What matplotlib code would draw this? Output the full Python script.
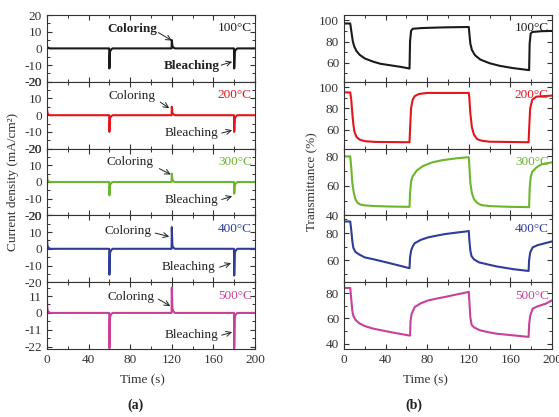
import numpy as np
import matplotlib
matplotlib.use("Agg")
from matplotlib import pyplot as plt
from matplotlib.ticker import MultipleLocator

plt.rcParams['font.family'] = ['Liberation Serif', 'DejaVu Serif']
plt.rcParams['font.size'] = 9
plt.rcParams['axes.unicode_minus'] = False

# panel labels and colours
temps = ['100°C', '200°C', '300°C', '400°C', '500°C']
colors = ['#1a1a1a', '#e3161e', '#6cb52d', '#2f3c98', '#c7409a']

# (a) current density, sampled around the switching spikes
t_cur = [0, 0.3, 1, 3, 59.8, 60, 60.6, 61.5, 63, 119.8, 120, 120.6, 121.5, 123,
         179.8, 180, 180.6, 181.5, 183, 200]
cur_100 = [1, 1, 0.3, 0, 0, -12, -2, -0.8, 0, 0, 5, 1.5, 0.5, 0, 0, -12, -2, -0.8, 0, 0]
cur_200 = [4, 2, 0.5, 0, 0, -10, -2, -0.8, 0, 0, 5, 1.5, 0.5, 0, 0, -10, -2, -0.8, 0, 0]
cur_300 = [4, 2, 0.5, 0, 0, -8, -2, -0.8, 0, 0, 5, 1.5, 0.5, 0, 0, -7, -2, -0.8, 0, 0]
cur_400 = [6, 2.5, 0.8, 0, 0, -15.5, -2.5, -1, 0, 0, 13, 2, 0.7, 0, 0, -16, -2.5, -1, 0, 0]
cur_500 = [8, 3, 1, 0, 0, -23, -3, -1, 0, 0, 16.5, 3, 1, 0, 0, -23, -3, -1, 0, 0]

# (b) transmittance
t_100 = [0, 6, 7, 8.5, 10, 12, 15, 20, 28, 35, 45, 55, 63, 63.5, 64.5, 66, 75, 95, 120,
         120.5, 121.5, 123, 126, 131, 140, 150, 162, 170, 178, 178.5, 179.5, 181, 190, 200]
T_100 = [97, 97, 90, 80, 75, 71, 67.5, 64, 61, 59, 57.5, 56, 54.5, 80, 90, 92, 92.7, 93.3, 93.7,
         88, 78, 72, 67, 63, 59.5, 57, 55, 54, 53, 78, 87.5, 89, 89.7, 90]
t_200 = [0, 6, 7, 8, 9, 10, 12, 15, 20, 30, 63, 63.5, 64.5, 66, 68, 72, 80, 120, 120.5,
         121.5, 123, 125, 128, 132, 140, 177.5, 178, 179, 181, 185, 200]
T_200 = [95, 95, 88, 75, 65, 58, 53, 50.5, 49, 48.3, 48, 60, 80, 88, 91.5, 93.5, 94.5, 94.5, 90,
         75, 62, 55, 51, 49.5, 48.5, 48, 60, 80, 88, 91, 92]
t_300 = [0, 6, 7, 8, 9.5, 11, 13, 16, 20, 30, 45, 63, 63.5, 64.5, 66, 70, 76, 85, 95, 108, 120,
         120.5, 121.5, 123, 125, 128, 132, 140, 160, 178, 178.5, 179.5, 181, 185, 190, 200]
T_300 = [80, 80, 72, 62, 55, 51, 48.5, 47.3, 46.8, 46.3, 46, 45.8, 55, 63, 66.5, 70.5, 73.5, 76,
         77.5, 78.7, 79.5, 74, 62, 55, 51, 48.5, 47, 46.3, 45.8, 45.6, 58, 66, 69.5, 72.5, 74.7, 76]
t_400 = [0, 6, 7, 8, 9, 11, 15, 20, 28, 41, 54, 63, 63.5, 64.5, 66, 68, 74, 81, 90, 97, 108, 118,
         120, 120.5, 121.5, 122.6, 125, 130, 140, 147, 163, 177.5, 178, 179, 181.4, 186, 194, 200]
T_400 = [88.5, 88.5, 82, 74, 69, 66, 64, 62, 60.7, 58.3, 55.8, 54, 62, 67, 70, 72.5, 75, 76.8,
         78.2, 79.2, 80.3, 81.2, 81.5, 75, 67, 63, 60.5, 58.3, 56.5, 55.3, 53.3, 52, 60, 65.5,
         69.4, 71, 72.6, 73.8]
t_500 = [0, 6, 7, 8, 9, 11, 15, 20, 28, 44, 62, 63.5, 64, 65, 68, 74, 81, 90, 97, 108, 118, 120,
         120.5, 121.5, 122.7, 125, 130.7, 140, 147, 163, 177.5, 178, 179, 181.4, 186, 194, 200]
T_500 = [84, 84, 75, 66, 62, 59, 56, 54, 52, 49.4, 46.7, 46.5, 58, 63.5, 69, 72, 74.2, 75.8,
         76.9, 78.8, 80.5, 81, 74, 61, 55, 53, 50.7, 49, 48, 46.7, 45.5, 55, 62, 67.7, 69.5,
         71.6, 74.2]

cur_all = [cur_100, cur_200, cur_300, cur_400, cur_500]
trans_all = [(t_100, T_100), (t_200, T_200), (t_300, T_300), (t_400, T_400), (t_500, T_500)]

# y limits and ticks per panel
cur_ylim = [(-20, 20), (-20, 20), (-20, 20), (-20, 20), (-23.5, 20)]
cur_step = [10, 10, 10, 10, 11]
tr_ylim = [(42, 105), (42, 105), (40, 85.3), (43.7, 93), (36, 88.5)]

# annotation positions (text centre, arrow start, arrow end) in data units
col_txt = [(82, 11.4), (82, 11.3), (80, 12), (78, 10.9), (81, 10.5)]
col_arrow = [((107, 9.5), (120, 4.7)), ((109, 7.8), (117.5, 4.2)), ((108, 8), (119, 4.5)),
             ((104, 9.4), (117.5, 7.3)), ((107, 9), (118.5, 4.5))]
ble_txt = [(139, -10.3), (139, -10.7), (139, -10.5), (136, -11), (139, -14.7)]
ble_arrow = [((167.5, -10), (178, -8)), ((168, -10.7), (178, -9)), ((168, -10.5), (178, -8.5)),
             ((166, -11), (177, -8.6)), ((168, -14.5), (178, -12.5))]

fig = plt.figure(figsize=(5.59, 4.17), dpi=100)

H = 1.0 - 15 / 417
ph = 66.8 / 417
lx, rx, w = 47 / 559, 344 / 559, 208 / 559


def style(ax, last):
    ax.set_xlim(0, 200)
    ax.xaxis.set_major_locator(MultipleLocator(40))
    ax.xaxis.set_minor_locator(MultipleLocator(20))
    ax.tick_params(which='both', direction='in', top=True, right=True,
                   labelsize=9.5, colors='#333333', labelcolor='#333333')
    ax.tick_params(which='major', length=3.5, width=0.8)
    ax.tick_params(which='minor', length=2.2, width=0.7)
    for s in ax.spines.values():
        s.set_linewidth(0.8)
        s.set_color('#333333')
    if not last:
        ax.tick_params(labelbottom=False)


for i in range(5):
    last = i == 4
    # current density
    ax = fig.add_axes([lx, H - (i + 1) * ph, w, ph])
    ax.plot(t_cur, cur_all[i], color=colors[i], lw=1.5)
    ax.set_ylim(*cur_ylim[i])
    ax.yaxis.set_major_locator(MultipleLocator(cur_step[i]))
    ax.yaxis.set_minor_locator(MultipleLocator(cur_step[i] / 2))
    style(ax, last)
    ax.text(0.985, 0.8, temps[i], color=colors[i], ha='right', va='center',
            transform=ax.transAxes, fontsize=9.5)
    fw = 'bold' if i == 0 else 'normal'
    ax.text(*col_txt[i], 'Coloring', ha='center', va='center', fontsize=9.5,
            color='#222222', fontweight=fw)
    ax.text(*ble_txt[i], 'Bleaching', ha='center', va='center', fontsize=9.5,
            color='#222222', fontweight=fw)
    ax.annotate('', xy=col_arrow[i][1], xytext=col_arrow[i][0],
                arrowprops=dict(arrowstyle='->', lw=0.7, color='#222222',
                                shrinkA=0, shrinkB=0))
    ax.annotate('', xy=ble_arrow[i][1], xytext=ble_arrow[i][0],
                arrowprops=dict(arrowstyle='->', lw=0.7, color='#222222',
                                shrinkA=0, shrinkB=0))

    # transmittance
    bx = fig.add_axes([rx, H - (i + 1) * ph, w, ph])
    bx.plot(trans_all[i][0], trans_all[i][1], color=colors[i], lw=1.5)
    bx.set_ylim(*tr_ylim[i])
    bx.yaxis.set_major_locator(MultipleLocator(20))
    bx.yaxis.set_minor_locator(MultipleLocator(10))
    style(bx, last)
    bx.text(0.985, 0.8, temps[i], color=colors[i], ha='right', va='center',
            transform=bx.transAxes, fontsize=9.5)

fig.text(13 / 559, 1 - 182 / 417, 'Current density (mA/cm²)', rotation=90,
         ha='center', va='center', fontsize=9.5, color='#333333')
fig.text(312 / 559, 1 - 182 / 417, 'Transmittance (%)', rotation=90,
         ha='center', va='center', fontsize=9.5, color='#333333')
fig.text(142 / 559, 1 - 380 / 417, 'Time (s)', ha='center', va='center',
         fontsize=9.5, color='#333333')
fig.text(425 / 559, 1 - 380 / 417, 'Time (s)', ha='center', va='center',
         fontsize=9.5, color='#333333')
fig.text(136 / 559, 1 - 405 / 417, '(a)', ha='center', va='center',
         fontsize=10, fontweight='bold', color='#222222')
fig.text(414 / 559, 1 - 405 / 417, '(b)', ha='center', va='center',
         fontsize=10, fontweight='bold', color='#222222')

fig.savefig('out.png', dpi=100)
